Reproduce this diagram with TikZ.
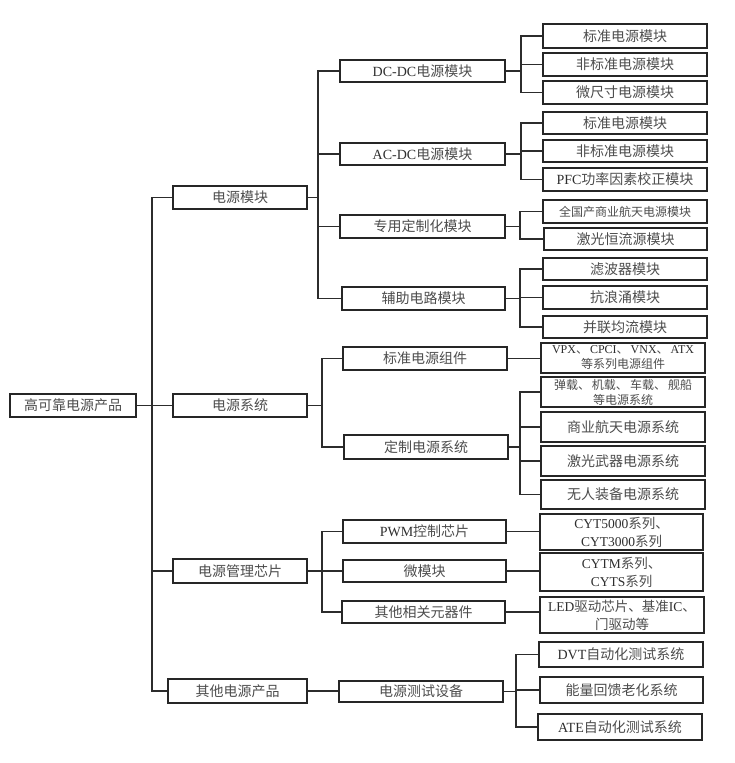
\documentclass[tikz,border=0pt]{standalone}
\usepackage{fontspec}
\setmainfont{Noto Sans CJK SC}
\newfontfamily\latfont{Liberation Serif}
\definecolor{linec}{HTML}{2c2c2c}
\definecolor{boxc}{HTML}{262626}
\definecolor{txtc}{HTML}{4c4c4c}
\definecolor{latc}{HTML}{2e2e2e}
\newcommand\latn[1]{{\latfont\color{latc}#1}}
\newcommand\tlink[3]{\draw[conn] (#1.east) -| (#2 |- #3.west) -- (#3.west);}
\newcommand\dlink[2]{\draw[conn] (#1.east) -- (#1.east -| #2.west);}
\tikzset{
  box/.style={draw=boxc, line width=2pt, inner sep=0pt, anchor=west,
    font=\fontsize{14}{16}\selectfont, text=txtc, align=center},
  conn/.style={draw=linec, line width=1.7pt},
  small/.style={font=\fontsize{12}{15}\selectfont},
  mid/.style={font=\fontsize{13.5}{18}\selectfont}
}
\begin{document}
\begin{tikzpicture}[x=1pt,y=-1pt]
\useasboundingbox (0,0) rectangle (734,763);
% trunk coordinates
\coordinate (t0) at (152,0);
\coordinate (t1) at (318,0);
\coordinate (t2) at (322,0);
\coordinate (tdc) at (521,0);
\coordinate (tac) at (521,0);
\coordinate (tzy) at (520,0);
\coordinate (tfz) at (520,0);
\coordinate (tdz) at (520,0);
\coordinate (tcs) at (516,0);
% root
\node[box, minimum width=126pt, minimum height=23pt] (root) at (9,405.5) {高可靠电源产品};
% level 1
\node[box, minimum width=134pt, minimum height=23pt] (pm) at (172,197.5) {电源模块};
\node[box, minimum width=134pt, minimum height=23pt] (ps) at (172,405.5) {电源系统};
\node[box, minimum width=134pt, minimum height=24pt] (pc) at (172,571) {电源管理芯片};
\node[box, minimum width=139pt, minimum height=24pt] (po) at (167,691) {其他电源产品};
% level 2
\node[box, minimum width=165pt, minimum height=22pt] (dc) at (339,71) {\latn{DC-DC}电源模块};
\node[box, minimum width=165pt, minimum height=22pt] (ac) at (339,154) {\latn{AC-DC}电源模块};
\node[box, minimum width=165pt, minimum height=23pt] (zy) at (339,226.5) {专用定制化模块};
\node[box, minimum width=163pt, minimum height=23pt] (fz) at (341,298.5) {辅助电路模块};
\node[box, minimum width=164pt, minimum height=23pt] (bz) at (342,358.5) {标准电源组件};
\node[box, minimum width=164pt, minimum height=24pt] (dz) at (343,447) {定制电源系统};
\node[box, minimum width=163pt, minimum height=23pt] (pwm) at (342,531.5) {\latn{PWM}控制芯片};
\node[box, minimum width=163pt, minimum height=22pt] (wm) at (342,571) {微模块};
\node[box, minimum width=163pt, minimum height=22pt] (qt) at (341,612) {其他相关元器件};
\node[box, minimum width=164pt, minimum height=21pt] (cs) at (338,691.5) {电源测试设备};
% leaves
\node[box, minimum width=164pt, minimum height=24pt] (dc1) at (542,36) {标准电源模块};
\node[box, minimum width=164pt, minimum height=23pt] (dc2) at (542,64.5) {非标准电源模块};
\node[box, minimum width=164pt, minimum height=23pt] (dc3) at (542,92.5) {微尺寸电源模块};
\node[box, minimum width=164pt, minimum height=22pt] (ac1) at (542,123) {标准电源模块};
\node[box, minimum width=164pt, minimum height=22pt] (ac2) at (542,151) {非标准电源模块};
\node[box, minimum width=164pt, minimum height=23pt] (ac3) at (542,179.5) {\latn{PFC}功率因素校正模块};
\node[box, small, minimum width=164pt, minimum height=23pt] (zy1) at (542,211.5) {全国产商业航天电源模块};
\node[box, minimum width=163pt, minimum height=22pt] (zy2) at (543,239) {激光恒流源模块};
\node[box, minimum width=164pt, minimum height=22pt] (fz1) at (542,269) {滤波器模块};
\node[box, minimum width=164pt, minimum height=23pt] (fz2) at (542,297.5) {抗浪涌模块};
\node[box, minimum width=164pt, minimum height=22pt] (fz3) at (542,327) {并联均流模块};
\node[box, small, minimum width=164pt, minimum height=30pt] (bz1) at (540,358)
  {\makebox[142pt][s]{\latn{VPX}、\hfil{}\latn{CPCI}、\hfil{}\latn{VNX}、\hfil{}\latn{ATX}}\\等系列电源组件};
\node[box, small, minimum width=164pt, minimum height=30pt] (dz1) at (540,392)
  {\makebox[138pt][s]{弹载、\hfil{}机载、\hfil{}车载、\hfil{}舰船}\\等电源系统};
\node[box, minimum width=164pt, minimum height=30pt] (dz2) at (540,427) {商业航天电源系统};
\node[box, minimum width=164pt, minimum height=30pt] (dz3) at (540,461) {激光武器电源系统};
\node[box, minimum width=164pt, minimum height=29pt] (dz4) at (540,494.5) {无人装备电源系统};
\node[box, mid, minimum width=163pt, minimum height=36pt] (pwm1) at (539,532) {\latn{CYT5000}系列、\\\latn{CYT3000}系列};
\node[box, mid, minimum width=163pt, minimum height=38pt] (wm1) at (539,572) {\latn{CYTM}系列、\\\latn{CYTS}系列};
\node[box, mid, minimum width=164pt, minimum height=36pt] (qt1) at (539,615) {\latn{LED}驱动芯片、基准\latn{IC}、\\门驱动等};
\node[box, minimum width=164pt, minimum height=25pt] (cs1) at (538,654.5) {\latn{DVT}自动化测试系统};
\node[box, minimum width=163pt, minimum height=26pt] (cs2) at (539,690) {能量回馈老化系统};
\node[box, minimum width=164pt, minimum height=26pt] (cs3) at (537,727) {\latn{ATE}自动化测试系统};
% connectors
\tlink{root}{t0}{pm}
\tlink{root}{t0}{ps}
\tlink{root}{t0}{pc}
\tlink{root}{t0}{po}
\tlink{pm}{t1}{dc}
\tlink{pm}{t1}{ac}
\tlink{pm}{t1}{zy}
\tlink{pm}{t1}{fz}
\tlink{ps}{t2}{bz}
\tlink{ps}{t2}{dz}
\tlink{pc}{t2}{pwm}
\tlink{pc}{t2}{wm}
\tlink{pc}{t2}{qt}
\dlink{po}{cs}
\tlink{dc}{tdc}{dc1}
\tlink{dc}{tdc}{dc2}
\tlink{dc}{tdc}{dc3}
\tlink{ac}{tac}{ac1}
\tlink{ac}{tac}{ac2}
\tlink{ac}{tac}{ac3}
\tlink{zy}{tzy}{zy1}
\tlink{zy}{tzy}{zy2}
\tlink{fz}{tfz}{fz1}
\tlink{fz}{tfz}{fz2}
\tlink{fz}{tfz}{fz3}
\dlink{bz}{bz1}
\tlink{dz}{tdz}{dz1}
\tlink{dz}{tdz}{dz2}
\tlink{dz}{tdz}{dz3}
\tlink{dz}{tdz}{dz4}
\dlink{pwm}{pwm1}
\dlink{wm}{wm1}
\dlink{qt}{qt1}
\tlink{cs}{tcs}{cs1}
\tlink{cs}{tcs}{cs2}
\tlink{cs}{tcs}{cs3}
\end{tikzpicture}
\end{document}
